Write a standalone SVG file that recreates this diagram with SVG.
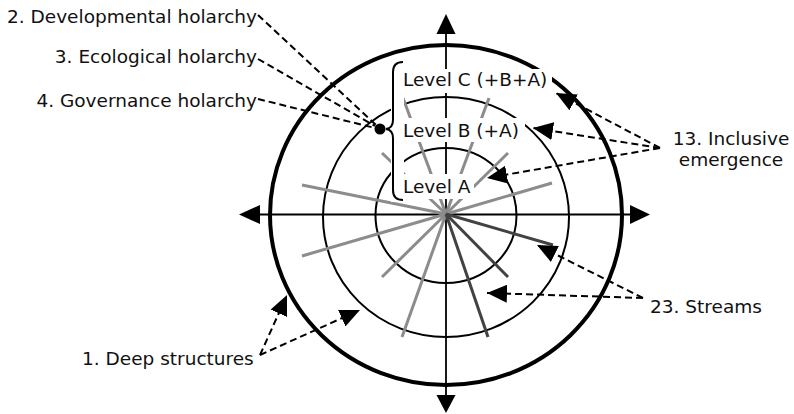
<svg xmlns="http://www.w3.org/2000/svg" width="794" height="414" viewBox="0 0 794 414">
<defs>
<style>
.txt{font-family:"DejaVu Sans","Liberation Sans",sans-serif;font-size:18.5px;fill:#111}
.ax{stroke:#000;stroke-width:1.8;fill:none}
.ring{fill:none;stroke:#000}
.lg{stroke:#8c8c8c;stroke-width:3}
.dk{stroke:#424242;stroke-width:3}
.dash{stroke:#000;stroke-width:2;stroke-dasharray:7,4;fill:none}
.box{fill:#fff}
</style>
<marker id="ah" markerUnits="userSpaceOnUse" markerWidth="20" markerHeight="18" refX="20" refY="9" orient="auto">
<path d="M0,0 L20,9 L0,18 z" fill="#000"/>
</marker>
</defs>
<rect width="794" height="414" fill="#fff"/>

<g id="rings">
<ellipse class="ring" cx="446" cy="215" rx="176" ry="170" stroke-width="4"/>
<ellipse class="ring" cx="446" cy="217" rx="123" ry="120" stroke-width="2"/>
<ellipse class="ring" cx="446" cy="215.5" rx="70.5" ry="67.5" stroke-width="2"/>
</g>

<g id="axes">
<line class="ax" x1="258" y1="214.5" x2="632" y2="214.5"/>
<line class="ax" x1="446" y1="32" x2="446" y2="396"/>
<path d="M239,214.5 L260,205 L260,224 z" fill="#000"/>
<path d="M650,214.5 L630,205 L630,224 z" fill="#000"/>
<path d="M446,14 L436.5,34 L455.5,34 z" fill="#000"/>
<path d="M446,413 L436.5,395 L455.5,395 z" fill="#000"/>
</g>

<g id="streams">
<line class="lg" x1="446" y1="214" x2="403" y2="98"/>
<line class="lg" x1="446" y1="214" x2="489" y2="98"/>
<line class="lg" x1="446" y1="214" x2="382" y2="153"/>
<line class="lg" x1="446" y1="214" x2="508" y2="153"/>
<line class="lg" x1="446" y1="214" x2="302" y2="185"/>
<line class="lg" x1="446" y1="214" x2="552" y2="183"/>
<line class="lg" x1="446" y1="214" x2="302" y2="256"/>
<line class="lg" x1="446" y1="214" x2="382" y2="277"/>
<line class="lg" x1="446" y1="214" x2="402" y2="337"/>
<line class="dk" x1="446" y1="214" x2="553" y2="245"/>
<line class="dk" x1="446" y1="214" x2="508" y2="277"/>
<line class="dk" x1="446" y1="214" x2="488" y2="337"/>
</g>

<g id="levels">
<rect class="box" x="391" y="60" width="13" height="142"/>
<rect class="box" x="400" y="69" width="152" height="24"/>
<rect class="box" x="400" y="118" width="125" height="24"/>
<rect class="box" x="400" y="174" width="74" height="25"/>
<text class="txt" x="403" y="86">Level C (+B+A)</text>
<text class="txt" x="403" y="136.5">Level B (+A)</text>
<text class="txt" x="403" y="193">Level A</text>
<path d="M403,62 Q393,62 393,72 L393,120 Q393,128 386,129 Q393,130 393,138 L393,190 Q393,200 403,200" fill="none" stroke="#000" stroke-width="2"/>
<circle cx="380" cy="129" r="5.5" fill="#000"/>
</g>

<g id="connectors">
<line class="dash" x1="258" y1="15" x2="376" y2="125"/>
<line class="dash" x1="258" y1="59" x2="375" y2="126"/>
<line class="dash" x1="258" y1="99" x2="375" y2="128"/>
<line class="dash" x1="660" y1="148" x2="556" y2="93" marker-end="url(#ah)"/>
<line class="dash" x1="660" y1="148" x2="533" y2="128" marker-end="url(#ah)"/>
<line class="dash" x1="660" y1="148" x2="487" y2="178" marker-end="url(#ah)"/>
<line class="dash" x1="643" y1="298" x2="537" y2="245" marker-end="url(#ah)"/>
<line class="dash" x1="643" y1="298" x2="487" y2="293" marker-end="url(#ah)"/>
<line class="dash" x1="260" y1="355" x2="287" y2="295" marker-end="url(#ah)"/>
<line class="dash" x1="260" y1="355" x2="360" y2="310" marker-end="url(#ah)"/>
</g>

<g id="labels">
<text class="txt" x="257" y="23" text-anchor="end">2. Developmental holarchy</text>
<text class="txt" x="257" y="63" text-anchor="end">3. Ecological holarchy</text>
<text class="txt" x="257" y="106.5" text-anchor="end">4. Governance holarchy</text>
<text class="txt" x="731" y="145" text-anchor="middle">13. Inclusive</text>
<text class="txt" x="731" y="166" text-anchor="middle">emergence</text>
<text class="txt" x="650" y="312.5">23. Streams</text>
<text class="txt" x="82" y="365">1. Deep structures</text>
</g>
</svg>
